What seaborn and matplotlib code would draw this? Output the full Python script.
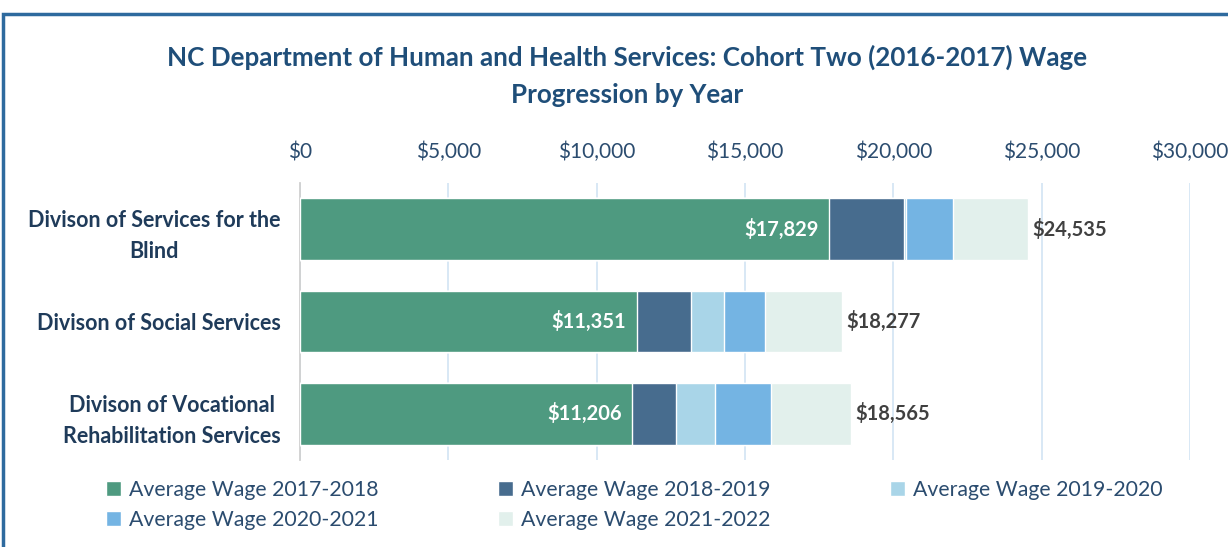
import numpy as np
import pandas as pd
import matplotlib
matplotlib.use("Agg")
import matplotlib.pyplot as plt
import seaborn as sns
from matplotlib.patches import Rectangle

sns.set_style("white")
plt.rcParams['font.family'] = ['Lato', 'DejaVu Sans']

divisions = ["Divison of Services for the\nBlind", "Divison of Social Services",
             "Divison of Vocational\nRehabilitation Services"]
years = ["Average Wage 2017-2018", "Average Wage 2018-2019", "Average Wage 2019-2020",
         "Average Wage 2020-2021", "Average Wage 2021-2022"]
# yearly increments
wage_1718 = [17829, 11351, 11206]
wage_1819 = [2521, 1827, 1476]
wage_1920 = [80, 1112, 1291]
wage_2021 = [1570, 1390, 1919]
wage_2122 = [2535, 2597, 2673]
colors = ["#4E9A80", "#476C8E", "#A9D5E8", "#74B4E3", "#E2F0EC"]

segs = np.array([wage_1718, wage_1819, wage_1920, wage_2021, wage_2122])
cum = segs.cumsum(axis=0)

fig = plt.figure(figsize=(12.28, 5.47), dpi=100)
ax = fig.add_axes([300/1228, 1-460/547, 890/1228, 277/547])

# draw longest first so shorter cumulative bars sit on top
for i in range(4, -1, -1):
    df = pd.DataFrame({"div": divisions, "val": cum[i]})
    sns.barplot(data=df, x="val", y="div", orient="h", color=colors[i],
                width=0.67, saturation=1, ax=ax, label=years[i], zorder=3)

ax.set_xlim(0, 30000)
ax.set_ylim(2.5, -0.5)
ax.set_xlabel("")
ax.set_ylabel("")
ticks = np.arange(0, 30001, 5000)
ax.set_xticks(ticks)
ax.set_xticklabels(["${:,}".format(t) for t in ticks])
ax.xaxis.tick_top()
ax.tick_params(axis="x", length=0, pad=15, labelsize=15, labelcolor="#2B4C6F")
ax.tick_params(axis="y", length=0, pad=14)
for lab in ax.get_yticklabels():
    lab.set_fontsize(15.5)
    lab.set_fontweight("bold")
    lab.set_color("#1F3B5A")
    lab.set_multialignment("center")
    lab.set_linespacing(1.6)
ax.grid(axis="x", color="#D5E6F5", linewidth=1.3, zorder=0)
for s in ["top", "right", "bottom"]:
    ax.spines[s].set_visible(False)
ax.spines["left"].set_color("#D0D0D0")
ax.spines["left"].set_linewidth(1.3)

# value labels
for j in range(3):
    ax.text(wage_1718[j] - 350, j, "${:,}".format(wage_1718[j]), color="white",
            fontsize=14.5, fontweight="bold", ha="right", va="center", zorder=5)
    ax.text(cum[4][j] + 150, j, "${:,}".format(cum[4][j]), color="#404040",
            fontsize=14.5, fontweight="bold", ha="left", va="center", zorder=5)

handles, labels = ax.get_legend_handles_labels()
if ax.get_legend():
    ax.get_legend().remove()
by_label = dict(zip(labels, handles))
# legend fills column-wise, so reorder to read row-wise
row_order = [0, 3, 1, 4, 2]
leg = fig.legend([by_label[years[k]] for k in row_order], [years[k] for k in row_order],
                 loc="upper left", bbox_to_anchor=(106/1228, 1-480/547), ncol=3,
                 frameon=False, fontsize=15.3, handlelength=0.7, handleheight=0.7,
                 handletextpad=0.4, columnspacing=5.6, labelspacing=0.45,
                 borderpad=0, borderaxespad=0)
for t in leg.get_texts():
    t.set_color("#2B4C6F")

fig.text(627/1228, 1-57/547, "NC Department of Human and Health Services: Cohort Two (2016-2017) Wage",
         ha="center", va="center", fontsize=18.7, fontweight="bold", color="#1F4E79")
fig.text(627/1228, 1-95/547, "Progression by Year",
         ha="center", va="center", fontsize=18.7, fontweight="bold", color="#1F4E79")

fig.add_artist(Rectangle((3/1228, -0.1), 1.2, 1 - 14/547 + 0.1, transform=fig.transFigure,
                         fill=False, edgecolor="#2E6A9E", linewidth=2.5))

fig.savefig("out.png", dpi=100)
